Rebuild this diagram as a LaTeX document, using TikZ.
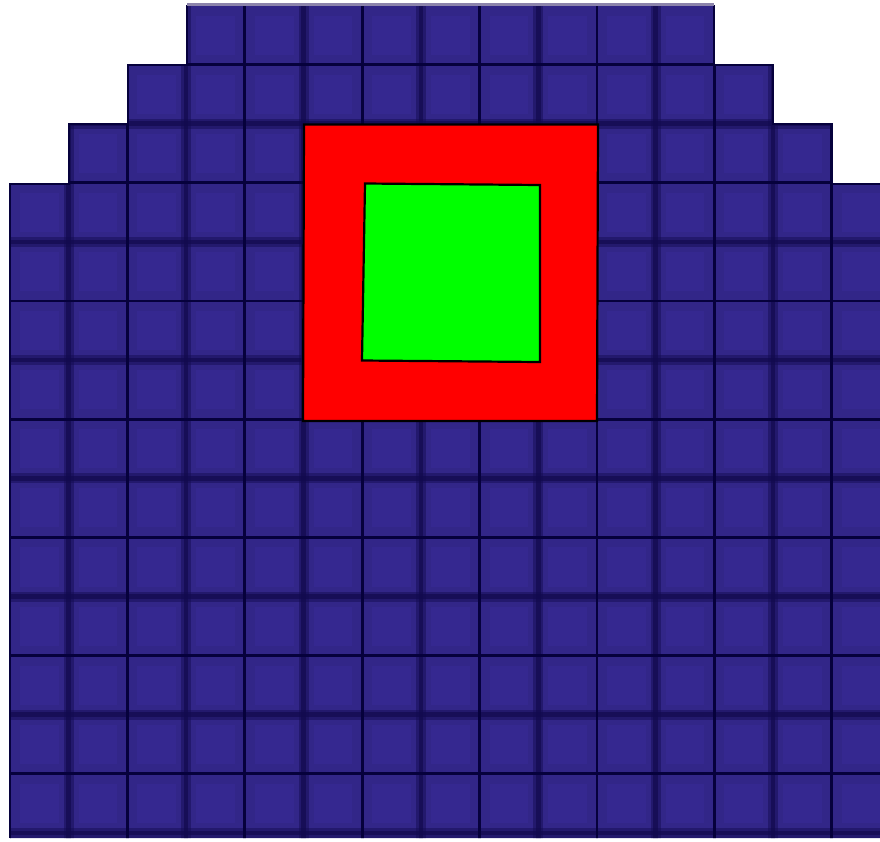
\documentclass[tikz,border=0pt]{standalone}
\definecolor{cellblue}{RGB}{50,38,136}
\definecolor{celllight}{RGB}{58,44,156}
\definecolor{gridnavy}{RGB}{6,1,60}
\definecolor{bandnavy}{RGB}{18,10,78}
\definecolor{topgray}{RGB}{140,132,172}
\definecolor{pureg}{RGB}{0,255,0}
\definecolor{purer}{RGB}{255,0,0}
\tikzset{
  crisp/.style={draw=gridnavy, line width=2.8pt},
  blurwide/.style={draw=bandnavy, line width=10pt, opacity=0.45},
  blurcore/.style={draw=bandnavy, line width=4.5pt, opacity=0.7},
  outline/.style={draw=gridnavy, line width=2.2pt, line join=miter},
  framebox/.style={draw=black, line width=2.2pt, line join=miter}
}
\begin{document}
\begin{tikzpicture}[x=1pt,y=-1pt]
\useasboundingbox (0,0) rectangle (880,841);
\begin{scope}
\clip (187,5) -- (714,5) -- (714,65) -- (773,65) -- (773,124) -- (832,124) -- (832,184) -- (882,184) -- (882,838) -- (10,838) -- (10,184) -- (69,184) -- (69,124) -- (128,124) -- (128,65) -- (187,65) -- cycle;
\fill[cellblue] (0,0) rectangle (880,841);
% soft lighter cell interiors
\foreach \i in {0,...,14}{
  \foreach \j in {0,...,13}{
    \pgfmathsetmacro\xa{10+58.7*\i+10}
    \pgfmathsetmacro\xb{10+58.7*(\i+1)-10}
    \pgfmathsetmacro\ya{5.5+59.1*\j+10}
    \pgfmathsetmacro\yb{5.5+59.1*(\j+1)-10}
    \fill[celllight, opacity=0.4] (\xa,\ya) rectangle (\xb,\yb);
  }
}
% blurred bands (odd vertical, even horizontal)
\foreach \k in {1,3,...,13}{
  \pgfmathsetmacro\x{10+58.7*\k}
  \draw[blurwide] (\x,0) -- (\x,841);
  \draw[blurcore] (\x,0) -- (\x,841);
}
\foreach \k in {2,4,...,14}{
  \pgfmathsetmacro\y{5.5+59.1*\k}
  \draw[blurwide] (0,\y) -- (880,\y);
  \draw[blurcore] (0,\y) -- (880,\y);
}
% crisp lines
\foreach \k in {0,2,...,14}{
  \pgfmathsetmacro\x{10+58.7*\k}
  \draw[crisp] (\x,0) -- (\x,841);
}
\foreach \k in {1,3,...,13}{
  \pgfmathsetmacro\y{5.5+59.1*\k}
  \draw[crisp] (0,\y) -- (880,\y);
}
\end{scope}
% outline of the dome of cells
\draw[outline] (714,5) -- (714,65) -- (773,65) -- (773,124) -- (832,124) -- (832,184) -- (882,184);
\draw[outline] (10,838) -- (10,184) -- (69,184) -- (69,124) -- (128,124) -- (128,65) -- (187,65) -- (187,5);
\draw[topgray, line width=3pt] (187,4) -- (714,4);
% red frame and green square
\filldraw[framebox, fill=purer] (304,124.5) -- (598,124.5) -- (597,421) -- (303,421) -- cycle;
\filldraw[framebox, fill=pureg] (365,183.5) -- (540,185) -- (540,362) -- (362,360.5) -- cycle;
\end{tikzpicture}
\end{document}
